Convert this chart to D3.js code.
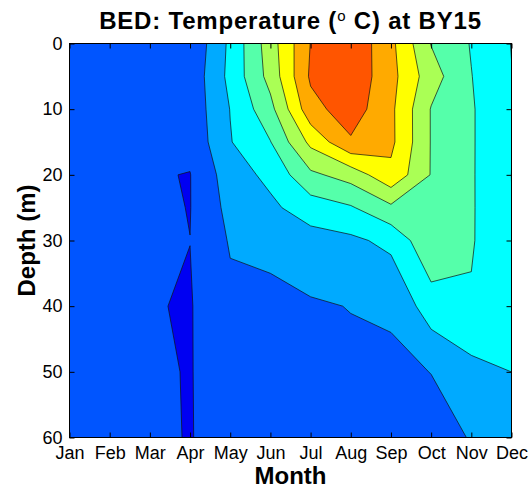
<!DOCTYPE html>
<html>
<head>
<meta charset="utf-8">
<script src="https://cdn.jsdelivr.net/npm/d3@7"></script>
<style>
  body { margin: 0; background: #fff; }
  text { font-family: "Liberation Sans", Arial, Helvetica, sans-serif; fill: #000; }
</style>
</head>
<body>
<svg id="chart" width="530" height="488"></svg>
<script>
// Month labels (grid columns) and sample depths in metres (grid rows)
const months = ["Jan", "Feb", "Mar", "Apr", "May", "Jun", "Jul", "Aug", "Sep", "Oct", "Nov", "Dec"];
const depths = [0, 5, 10, 15, 20, 25, 30, 40, 50, 60];
const depthTicks = [0, 10, 20, 30, 40, 50, 60];

// Filled contour levels (deg C) and the colour of each band (below first level, then >= each level)
const levels = [2, 4, 6, 8, 10, 12, 14, 16];
const bandColors = ["#0000f2", "#0055ff", "#00aaff", "#00ffff", "#55ffaa", "#aaff55", "#ffff00", "#ffaa00", "#ff5500"];

// Temperature (deg C): one row per depth, one column per month
const temps = [
  [3.80, 3.0, 2.70,  2.29, 6.42, 11.07, 16.05, 17.60, 14.51,  9.92, 7.88, 5.95], //  0 m
  [3.80, 3.0, 2.65,  2.60, 6.55, 10.70, 16.30, 17.50, 14.66, 10.89, 8.05, 6.05], //  5 m
  [3.80, 3.0, 2.60,  2.65, 6.05,  9.40, 15.30, 17.05, 14.42,  9.90, 8.20, 6.05], // 10 m
  [3.80, 3.0, 2.50,  2.45, 5.90,  7.94, 12.50, 15.74, 14.45,  9.90, 8.20, 6.05], // 15 m
  [3.75, 3.0, 2.117, 1.95, 5.06,  6.50,  9.60, 10.80, 13.50,  9.90, 8.20, 5.99], // 20 m
  [3.70, 3.0, 2.37,  1.95, 4.61,  5.60,  7.00,  7.80,  9.60,  9.75, 8.20, 6.03], // 25 m
  [3.70, 3.0, 2.30,  2.01, 4.17,  4.40,  5.20,  5.60,  6.50,  9.60, 8.19, 6.04], // 30 m
  [3.60, 3.1, 2.095, 1.884,3.54,  3.60,  3.80,  4.05,  4.20,  7.07, 7.79, 6.06], // 40 m
  [3.60, 3.1, 2.30,  1.90, 3.20,  3.30,  3.40,  3.60,  3.70,  4.02, 5.40, 6.005], // 50 m
  [3.50, 3.1, 2.40,  1.90, 3.00,  3.10,  3.20,  3.30,  3.40,  3.50, 4.07, 5.50]  // 60 m
];

const plot = { left: 69.5, right: 511.5, top: 43.5, bottom: 437.5 };

const svg = d3.select("#chart");

const x = d3.scaleLinear().domain([0, months.length - 1]).range([plot.left, plot.right]);
const y = d3.scaleLinear().domain([0, 60]).range([plot.top, plot.bottom]);

const nx = months.length, ny = depths.length;
// row index -> depth (rows are not evenly spaced)
const rowDepth = d3.scaleLinear().domain(depths.map((d, i) => i)).range(depths);

// contour grid coordinates: value (i, j) sits at (i + 0.5, j + 0.5)
const toScreen = d3.geoTransform({
  point(cx, cy) {
    const ci = Math.max(0, Math.min(nx - 1, cx - 0.5));
    const ri = Math.max(0, Math.min(ny - 1, cy - 0.5));
    this.stream.point(x(ci), y(rowDepth(ri)));
  }
});
const path = d3.geoPath(toScreen);

const values = temps.flat();
const contours = d3.contours().size([nx, ny]).smooth(true).thresholds(levels)(values);

const g = svg.append("g");

// lowest band fills the whole plot
g.append("rect")
  .attr("x", plot.left).attr("y", plot.top)
  .attr("width", plot.right - plot.left).attr("height", plot.bottom - plot.top)
  .attr("fill", bandColors[0]);

g.selectAll("path.band")
  .data(contours)
  .join("path")
  .attr("class", "band")
  .attr("d", path)
  .attr("fill", (d, i) => bandColors[i + 1])
  .attr("stroke", "none");

g.selectAll("path.isoline")
  .data(contours)
  .join("path")
  .attr("class", "isoline")
  .attr("d", path)
  .attr("fill", "none")
  .attr("stroke", "#111")
  .attr("stroke-width", 0.7)
  .attr("stroke-linejoin", "round");

// axes with inward ticks on all four sides
const tickFont = 18;
const xAxis = d3.axisBottom(x)
  .tickValues(d3.range(nx))
  .tickFormat(i => months[i])
  .tickSizeInner(-5).tickSizeOuter(0).tickPadding(9);
const yAxis = d3.axisLeft(y)
  .tickValues(depthTicks)
  .tickFormat(d3.format("d"))
  .tickSizeInner(-5).tickSizeOuter(0).tickPadding(7);

svg.append("g").attr("transform", `translate(0,${plot.bottom})`).call(xAxis);
svg.append("g").attr("transform", `translate(${plot.left},0)`).call(yAxis);
svg.append("g").attr("transform", `translate(0,${plot.top})`)
  .call(d3.axisTop(x).tickValues(d3.range(nx)).tickFormat("").tickSizeInner(-5).tickSizeOuter(0));
svg.append("g").attr("transform", `translate(${plot.right},0)`)
  .call(d3.axisRight(y).tickValues(depthTicks).tickFormat("").tickSizeInner(-5).tickSizeOuter(0));

svg.selectAll(".domain").remove();
svg.selectAll(".tick line").attr("stroke", "#000").attr("stroke-width", 1);
svg.selectAll(".tick text").style("font-size", tickFont + "px")
  .style("font-family", "'Liberation Sans', Arial, sans-serif").attr("fill", "#000");

// frame
svg.append("rect")
  .attr("x", plot.left).attr("y", plot.top)
  .attr("width", plot.right - plot.left).attr("height", plot.bottom - plot.top)
  .attr("fill", "none").attr("stroke", "#000").attr("stroke-width", 1);

const cx = (plot.left + plot.right) / 2;

// title with superscript degree "o"
const title = svg.append("text")
  .attr("x", cx).attr("y", 28.5)
  .attr("text-anchor", "middle")
  .style("font-size", "24px").style("font-weight", "bold")
  .style("letter-spacing", "0.8px");
title.append("tspan").text("BED: Temperature (");
title.append("tspan").attr("dy", -8).style("font-size", "15px").style("font-weight", "normal").text("o");
title.append("tspan").attr("dy", 8).text(" C) at BY15");

svg.append("text")
  .attr("x", cx).attr("y", 484)
  .attr("text-anchor", "middle")
  .style("font-size", "24px").style("font-weight", "bold")
  .text("Month");

svg.append("text")
  .attr("transform", `translate(35,${(plot.top + plot.bottom) / 2}) rotate(-90)`)
  .attr("text-anchor", "middle")
  .style("font-size", "24px").style("font-weight", "bold")
  .text("Depth (m)");
</script>
</body>
</html>
